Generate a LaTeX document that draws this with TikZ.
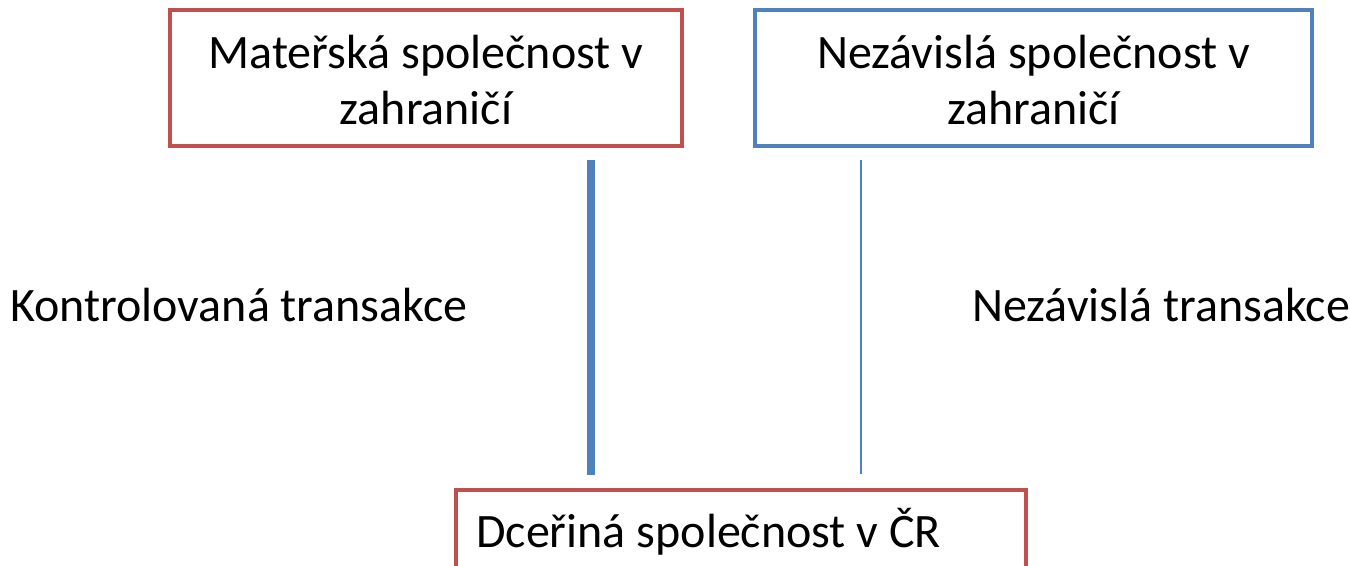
\documentclass[tikz,border=0pt]{standalone}
\usepackage{fontspec}
\setmainfont{Carlito}
\definecolor{accred}{HTML}{C0504D}
\definecolor{accblue}{HTML}{4F81BD}
\begin{document}
\begin{tikzpicture}[x=0.75pt,y=-0.75pt,
  txt/.style={font=\fontsize{36}{42}\selectfont, inner sep=0pt},
  redbox/.style={draw=accred, line width=3pt, inner sep=0pt},
  bluebox/.style={draw=accblue, line width=3pt, inner sep=0pt},
  link/.style={draw=accblue}]
\useasboundingbox (0,0) rectangle (1350,565);
\clip (0,0) rectangle (1350,565);
% top boxes
\node[redbox, minimum width=512*0.75pt, minimum height=136*0.75pt] (mat) at (426,78) {};
\node[txt, align=center] (matt) at (426,80) {Mateřská společnost v\\zahraničí};
\node[bluebox, minimum width=557*0.75pt, minimum height=136*0.75pt] (nez) at (1033.5,78) {};
\node[txt, align=center] (nezt) at (1033.5,80) {Nezávislá společnost v\\zahraničí};
% bottom box (cut off)
\node[redbox, minimum width=570*0.75pt, minimum height=160*0.75pt] (dce) at (741,570) {};
\node[txt, anchor=base west] (dcet) at (476,547) {Dceřiná společnost v ČR};
% labels
\node[txt, anchor=base west] (kon) at (10,321) {Kontrolovaná transakce};
\node[txt, anchor=base west] (nzt) at (972,321) {Nezávislá transakce};
% connectors
\coordinate (c1a) at (591,160);
\coordinate (c1b) at (591,475);
\coordinate (c2a) at (861,160);
\coordinate (c2b) at (861,474);
\draw[link, line width=6pt] (c1a) -- (c1b);
\draw[link, line width=1.5pt] (c2a) -- (c2b);
\end{tikzpicture}
\end{document}
